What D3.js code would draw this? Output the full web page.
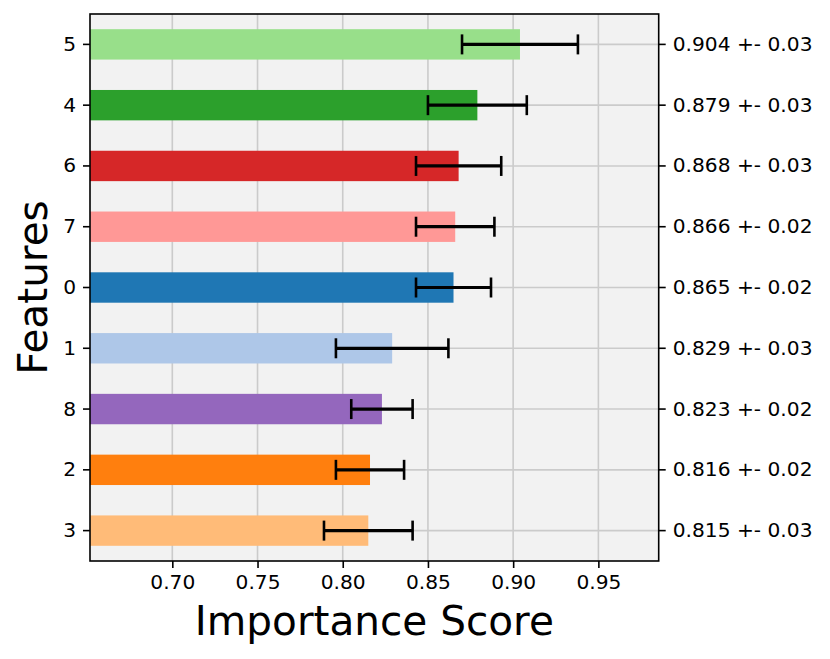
<!DOCTYPE html>
<html><head><meta charset="utf-8">
<script src="https://cdn.jsdelivr.net/npm/d3@7"></script>
<style>body{margin:0;background:#fff}svg{display:block;font-family:"DejaVu Sans",sans-serif}</style>
</head><body>
<svg id="c" width="830" height="659"></svg>
<script>
const features = ["5","4","6","7","0","1","8","2","3"];
const means = [0.904,0.879,0.868,0.866,0.865,0.829,0.823,0.816,0.815];
const errs = [0.034,0.029,0.025,0.023,0.022,0.033,0.018,0.020,0.026];
const rightLabels = ["0.904 +- 0.03","0.879 +- 0.03","0.868 +- 0.03","0.866 +- 0.02","0.865 +- 0.02","0.829 +- 0.03","0.823 +- 0.02","0.816 +- 0.02","0.815 +- 0.03"];
const colors = ["#98df8a","#2ca02c","#d62728","#ff9896","#1f77b4","#aec7e8","#9467bd","#ff7f0e","#ffbb78"];
const xTicks = [0.70,0.75,0.80,0.85,0.90,0.95];
const xDomain = [0.6517,0.9854];

const L=90,R=658.7,T=14,B=561;
const svg=d3.select("#c");
const x=d3.scaleLinear().domain(xDomain).range([L,R]);
const y=d3.scaleBand().domain(features).range([T,B]).paddingInner(0.5).paddingOuter(0.25);
const yc=d=>y(d)+y.bandwidth()/2;

svg.append("rect").attr("x",L).attr("y",T).attr("width",R-L).attr("height",B-T).attr("fill","#f2f2f2");
// grid
const g=svg.append("g");
g.selectAll(".vx").data(xTicks).join("line").attr("x1",d=>x(d)).attr("x2",d=>x(d)).attr("y1",T).attr("y2",B).attr("stroke","#cbcbcb").attr("stroke-width",1.6);
g.selectAll(".hy").data(features).join("line").attr("x1",L).attr("x2",R).attr("y1",yc).attr("y2",yc).attr("stroke","#cbcbcb").attr("stroke-width",1.6);

// bars
svg.selectAll(".bar").data(features).join("rect")
 .attr("x",x(xDomain[0])).attr("y",d=>y(d)).attr("height",y.bandwidth())
 .attr("width",(d,i)=>x(means[i])-x(xDomain[0])).attr("fill",(d,i)=>colors[i]);

// error bars
const eb=svg.append("g").attr("stroke","#000").attr("stroke-width",3.2);
features.forEach((f,i)=>{
  const cy=yc(f), x0=x(means[i]-errs[i]), x1=x(means[i]+errs[i]);
  eb.append("line").attr("x1",x0).attr("x2",x1).attr("y1",cy).attr("y2",cy);
  eb.append("line").attr("x1",x0).attr("x2",x0).attr("y1",cy-10).attr("y2",cy+10).attr("stroke-width",2.6);
  eb.append("line").attr("x1",x1).attr("x2",x1).attr("y1",cy-10).attr("y2",cy+10).attr("stroke-width",2.6);
});

// frame
svg.append("rect").attr("x",L).attr("y",T).attr("width",R-L).attr("height",B-T).attr("fill","none").attr("stroke","#000").attr("stroke-width",1.6);

// axes
const xa=svg.append("g").attr("transform",`translate(0,${B})`)
 .call(d3.axisBottom(x).tickValues(xTicks).tickFormat(d3.format(".2f")).tickSize(7).tickPadding(7));
const ya=svg.append("g").attr("transform",`translate(${L},0)`)
 .call(d3.axisLeft(y).tickSize(7).tickPadding(7));
const ra=svg.append("g").attr("transform",`translate(${R},0)`)
 .call(d3.axisRight(y).tickFormat((d,i)=>rightLabels[i]).tickSize(7).tickPadding(7));
[xa,ya,ra].forEach(a=>{
  a.select(".domain").remove();
  a.selectAll("line").attr("stroke","#000").attr("stroke-width",1.6);
  a.selectAll("text").attr("font-size",20.2).attr("font-family","DejaVu Sans").attr("fill","#000");
});

svg.append("text").attr("x",(L+R)/2).attr("y",635).attr("text-anchor","middle").attr("font-size",40.6).text("Importance Score");
svg.append("text").attr("transform",`translate(47,${(T+B)/2}) rotate(-90)`).attr("text-anchor","middle").attr("font-size",40.6).text("Features");
</script>
</body></html>
